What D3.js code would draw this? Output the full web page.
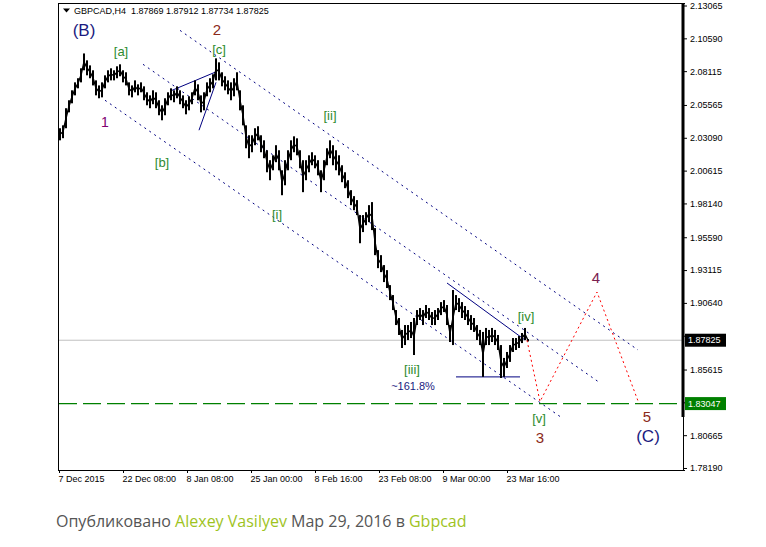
<!DOCTYPE html>
<html><head><meta charset="utf-8">
<script src="https://cdn.jsdelivr.net/npm/d3@7"></script>
<style>html,body{margin:0;padding:0;background:#fff;}svg{display:block}</style>
</head><body>
<svg id="c" width="766" height="547"></svg>
<script>
// ---------------- data ----------------
const symbol = "GBPCAD,H4";
const lastOHLC = [1.87869, 1.87912, 1.87734, 1.87825];
const xTickBars = [0, 64, 128, 192, 256, 320, 384, 448];          // H4 bar index
const xTickLabels = ["7 Dec 2015", "22 Dec 08:00", "8 Jan 08:00", "25 Jan 00:00",
                     "8 Feb 16:00", "23 Feb 08:00", "9 Mar 00:00", "23 Mar 16:00"];
const priceTicks = [2.13065, 2.10590, 2.08115, 2.05565, 2.03090, 2.00615, 1.98140, 1.95590,
                    1.93115, 1.90640, 1.88165, 1.85615, 1.83140, 1.80665, 1.78190];
const hiddenTicks = [1.88165, 1.83140]; // covered by the price boxes in the reference
const barStep = 3; // each high/low pair spans 3 H4 bars (12 hours)
const highs = [2.0381,2.0403,2.0532,2.0592,2.0667,2.0727,2.0758,2.0833,2.0945,2.0893,
  2.0855,2.0818,2.0742,2.0704,2.0727,2.0780,2.0818,2.0833,2.0818,2.0848,
  2.0863,2.0818,2.0803,2.0727,2.0704,2.0742,2.0712,2.0727,2.0697,2.0652,
  2.0629,2.0667,2.0652,2.0592,2.0554,2.0607,2.0652,2.0682,2.0667,2.0697,
  2.0667,2.0629,2.0592,2.0622,2.0652,2.0742,2.0712,2.0629,2.0652,2.0727,
  2.0758,2.0788,2.0908,2.0878,2.0803,2.0773,2.0742,2.0727,2.0758,2.0803,
  2.0667,2.0554,2.0403,2.0328,2.0328,2.0381,2.0396,2.0328,2.0290,2.0215,
  2.0140,2.0177,2.0253,2.0215,2.0064,2.0140,2.0215,2.0290,2.0320,2.0305,
  2.0215,2.0140,2.0140,2.0177,2.0200,2.0177,2.0140,2.0064,2.0140,2.0230,
  2.0290,2.0253,2.0215,2.0177,2.0102,2.0049,1.9989,1.9914,1.9869,1.9839,
  1.9726,1.9726,1.9748,1.9801,1.9824,1.9628,1.9462,1.9424,1.9349,1.9311,
  1.9198,1.9123,1.9010,1.8950,1.8860,1.8897,1.8897,1.8920,1.8950,1.9010,
  1.9025,1.9010,1.9048,1.9025,1.8995,1.9010,1.9025,1.9070,1.9085,1.9048,
  1.8897,1.9161,1.9123,1.9100,1.9070,1.9040,1.9010,1.8972,1.8950,1.8897,
  1.8860,1.8845,1.8875,1.8860,1.8875,1.8860,1.8822,1.8746,1.8649,1.8694,
  1.8746,1.8799,1.8799,1.8814,1.8837,1.8875,1.87912];
const lows = [2.0290,2.0306,2.0381,2.0501,2.0569,2.0629,2.0682,2.0727,2.0818,2.0780,
  2.0758,2.0704,2.0629,2.0607,2.0614,2.0682,2.0727,2.0742,2.0742,2.0758,
  2.0773,2.0727,2.0704,2.0629,2.0614,2.0652,2.0629,2.0652,2.0592,2.0554,
  2.0532,2.0562,2.0532,2.0479,2.0441,2.0479,2.0554,2.0592,2.0577,2.0607,
  2.0562,2.0532,2.0486,2.0516,2.0562,2.0629,2.0592,2.0501,2.0516,2.0622,
  2.0652,2.0682,2.0742,2.0742,2.0697,2.0667,2.0637,2.0592,2.0622,2.0667,
  2.0516,2.0403,2.0230,2.0155,2.0200,2.0253,2.0290,2.0200,2.0155,2.0049,
  1.9989,2.0064,2.0125,2.0064,1.9876,1.9951,2.0064,2.0140,2.0200,2.0177,
  2.0079,1.9899,1.9989,2.0049,2.0102,2.0079,2.0026,1.9899,1.9989,2.0102,
  2.0155,2.0102,2.0064,2.0026,1.9974,1.9929,1.9854,1.9801,1.9763,1.9726,
  1.9514,1.9598,1.9650,1.9673,1.9613,1.9424,1.9326,1.9296,1.9221,1.9176,
  1.9085,1.9010,1.8897,1.8822,1.8724,1.8746,1.8784,1.8799,1.8671,1.8897,
  1.8935,1.8897,1.8950,1.8935,1.8897,1.8897,1.8935,1.8972,1.8995,1.8897,
  1.8769,1.8746,1.9010,1.8995,1.8950,1.8935,1.8897,1.8860,1.8845,1.8784,
  1.8746,1.8506,1.8746,1.8746,1.8769,1.8746,1.8709,1.8498,1.8506,1.8573,
  1.8619,1.8694,1.8709,1.8724,1.8761,1.8784,1.87734];
const targetLevel = 1.83047;
// trend lines: [bar0, price0, bar1, price1]
const channelLines = [[121, 2.1119, 579, 1.8709], [84, 2.0863, 541, 1.8461], [46, 2.0592, 503, 1.8197]];
const solidLines = [[113, 2.0667, 156, 2.0803], [140, 2.0366, 157, 2.0727],
                    [388, 1.9214, 466, 1.8784], [397, 1.8506, 461, 1.8506]];
const forecastBars = [468, 481, 538, 580];
const forecastPrices = [1.87825, 1.8320, 1.9146, 1.83047];
// wave labels: [bar, price, text, colour, size]
const waveLabels = [
  [25, 2.1119, "(B)", "#1a1a80", 17], [62, 2.0961, "[a]", "#2e8b2e", 13],
  [158, 2.1126, "2", "#8b2a1a", 15], [160, 2.0976, "[c]", "#2e8b2e", 13],
  [46, 2.0426, "1", "#800070", 14], [103, 2.0125, "[b]", "#2e8b2e", 13],
  [218, 1.9733, "[i]", "#2e8b2e", 13], [271, 2.0479, "[ii]", "#2e8b2e", 13],
  [353, 1.8558, "[iii]", "#2e8b2e", 13], [354, 1.8438, "~161.8%", "#1a1a80", 11],
  [467, 1.8958, "[iv]", "#2e8b2e", 13], [537, 1.9259, "4", "#7a2050", 15],
  [480, 1.8190, "[v]", "#2e8b2e", 13], [481, 1.8046, "3", "#8b2a1a", 15],
  [588, 1.8205, "5", "#8b2a1a", 15], [589, 1.8054, "(C)", "#1a1a80", 17]
];

// ---------------- drawing ----------------
const svg = d3.select("#c");
const L = 58, R = 683, T = 3, B = 470;
const x = d3.scaleLinear().domain([0, 625]).range([59, 684]);
const y = d3.scaleLinear().domain([1.78039, 2.13254]).range([B, T]);
const axisFont = "'Liberation Sans', Arial, sans-serif";
const fmt = d3.format(".5f");

// price line & target line
svg.append("line").attr("x1", L).attr("x2", R).attr("y1", y(lastOHLC[3])).attr("y2", y(lastOHLC[3]))
  .attr("stroke", "#c0c0c0").attr("stroke-width", 1);
svg.append("line").attr("x1", L + 1).attr("x2", R - 4).attr("y1", y(targetLevel)).attr("y2", y(targetLevel))
  .attr("stroke", "#008000").attr("stroke-width", 1.3).attr("stroke-dasharray", "18,6");

// channel lines (dotted navy)
svg.append("g").selectAll("line").data(channelLines).join("line")
  .attr("x1", d => x(d[0])).attr("y1", d => y(d[1])).attr("x2", d => x(d[2])).attr("y2", d => y(d[3]))
  .attr("stroke", "#000080").attr("stroke-width", 1).attr("stroke-dasharray", "2,4");
svg.append("g").selectAll("line").data(solidLines).join("line")
  .attr("x1", d => x(d[0])).attr("y1", d => y(d[1])).attr("x2", d => x(d[2])).attr("y2", d => y(d[3]))
  .attr("stroke", "#000080").attr("stroke-width", 1);

// price bars
const bars = highs.map((h, i) => ({ i: i * barStep, h, l: lows[i] }));
const g = svg.append("g");
g.selectAll("rect").data(bars).join("rect")
  .attr("x", d => x(d.i)).attr("width", 2)
  .attr("y", d => y(d.h)).attr("height", d => Math.max(1, y(d.l) - y(d.h)))
  .attr("fill", "#000");
g.append("path").datum(bars)
  .attr("d", d3.line().x(d => x(d.i) + 1).y(d => y((d.h + d.l) / 2)))
  .attr("fill", "none").attr("stroke", "#000").attr("stroke-width", 1.4);

// forecast path (red dotted)
svg.append("path").datum(forecastBars.map((b, i) => [b, forecastPrices[i]]))
  .attr("d", d3.line().x(d => x(d[0])).y(d => y(d[1])))
  .attr("fill", "none").attr("stroke", "#ff0000").attr("stroke-width", 1).attr("stroke-dasharray", "2,3");

// wave labels
svg.append("g").selectAll("text").data(waveLabels).join("text")
  .attr("x", d => x(d[0])).attr("y", d => y(d[1]))
  .attr("text-anchor", "middle").attr("dominant-baseline", "central")
  .attr("fill", d => d[3]).attr("font-size", d => d[4])
  .attr("font-family", "'Liberation Sans', Arial, sans-serif")
  .text(d => d[2]);

// frame
svg.append("line").attr("x1", L + 0.5).attr("x2", L + 0.5).attr("y1", T).attr("y2", B).attr("stroke", "#000");
svg.append("line").attr("x1", L).attr("x2", R + 2).attr("y1", T + 0.5).attr("y2", T + 0.5).attr("stroke", "#000");
svg.append("line").attr("x1", L).attr("x2", R + 2).attr("y1", B + 0.5).attr("y2", B + 0.5).attr("stroke", "#000");
svg.append("line").attr("x1", R + 0.5).attr("x2", R + 0.5).attr("y1", T).attr("y2", B + 1).attr("stroke", "#000");
svg.append("line").attr("x1", R).attr("x2", R).attr("y1", T).attr("y2", 417).attr("stroke", "#000").attr("stroke-width", 3);

// right axis
const ya = svg.append("g").attr("transform", `translate(${R + 1},0)`)
  .call(d3.axisRight(y).tickValues(priceTicks).tickSize(3).tickPadding(3)
    .tickFormat(d => hiddenTicks.includes(d) ? "" : fmt(d)));
ya.select(".domain").remove();
ya.selectAll("text").attr("font-family", axisFont).attr("font-size", 9).attr("fill", "#000");
ya.selectAll("line").attr("stroke", "#000");

// bottom axis
const xa = svg.append("g").attr("transform", `translate(0,${B})`)
  .call(d3.axisBottom(x).tickValues(xTickBars).tickSize(3).tickPadding(3)
    .tickFormat((d, i) => xTickLabels[i]));
xa.select(".domain").remove();
xa.selectAll("text").attr("text-anchor", "start").attr("font-family", axisFont).attr("font-size", 9).attr("fill", "#000")
  .attr("dy", "0.71em").attr("x", -1);
xa.selectAll("line").attr("stroke", "#000");

// price boxes
function priceBox(p, fill) {
  const yy = y(p);
  svg.append("rect").attr("x", R + 2).attr("y", yy - 6.5).attr("width", 41).attr("height", 13).attr("fill", fill);
  svg.append("text").attr("x", R + 5).attr("y", yy).attr("dominant-baseline", "central")
    .attr("font-family", axisFont).attr("font-size", 9).attr("fill", "#fff").text(fmt(p));
}
priceBox(lastOHLC[3], "#000");
priceBox(targetLevel, "#008000");

// title
svg.append("path").attr("d", "M63,8.5 L70,8.5 L66.5,12.5 Z").attr("fill", "#000");
svg.append("text").attr("x", 74).attr("y", 10.5).attr("dominant-baseline", "central")
  .attr("font-family", axisFont).attr("font-size", 9).attr("fill", "#000")
  .attr("xml:space", "preserve")
  .text(symbol + "  " + lastOHLC.map(fmt).join(" "));

// footer
const ft = svg.append("text").attr("x", 56).attr("y", 527).attr("xml:space", "preserve")
  .attr("font-family", "'Open Sans', Lato, sans-serif").attr("font-size", 16);
const parts = [["Опубликовано ", "#555"], ["Alexey Vasilyev", "#9ec31e"], [" Мар 29, 2016 в ", "#555"], ["Gbpcad", "#9ec31e"]];
ft.selectAll("tspan").data(parts).join("tspan").attr("fill", d => d[1]).attr("xml:space", "preserve").text(d => d[0]);
</script>
</body></html>
